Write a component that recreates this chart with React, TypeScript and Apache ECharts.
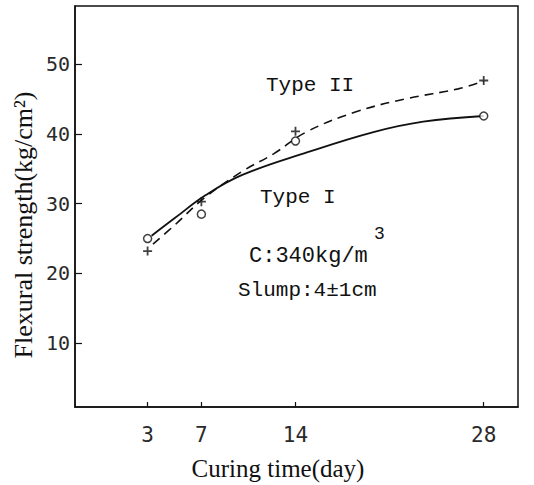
import React, { useEffect, useRef } from "react";
import * as echarts from "echarts";

// Measured data points (curing time in days, flexural strength in kg/cm²)
const days = [3, 7, 14, 28];
const type1Points = [25.0, 28.5, 39.0, 42.6];
const type2Points = [23.2, 30.3, 40.4, 47.7];

// Fitted curves as drawn in the figure
const type1CurveDays = [3.3, 5, 7.3, 10, 14.9, 19.8, 23.5, 28];
const type1CurveVals = [25.4, 27.9, 31.2, 34.1, 37.4, 40.3, 41.8, 42.6];
const type2CurveDays = [3.4, 5, 7.2, 10, 12.4, 14.8, 18.5, 22.3, 26.1, 28];
const type2CurveVals = [24.2, 26.9, 30.8, 34.6, 37.2, 40.3, 43.2, 45.1, 46.5, 47.6];

const xTicks = [3, 7, 14, 28];
const yTicks = [10, 20, 30, 40, 50];

const PLUS = "path://M4,0H6V4H10V6H6V10H4V6H0V4H4Z";

export default function App() {
  const ref = useRef<HTMLDivElement>(null);
  useEffect(() => {
    if (!ref.current) return;
    const chart = echarts.init(ref.current, null, { renderer: "svg" });
    const mono = "DejaVu Sans Mono";
    const typeFont = "Liberation Mono";
    const serif = "Liberation Serif";
    chart.setOption({
      animation: false,
      backgroundColor: "#fff",
      grid: {
        left: 75,
        right: 16,
        top: 6,
        bottom: 78,
        show: true,
        borderColor: "#111",
        borderWidth: 1.5,
      },
      xAxis: {
        type: "value",
        min: -2.4,
        max: 30.55,
        splitLine: { show: false },
        axisLine: { onZero: false, lineStyle: { color: "#111", width: 1.5 } },
        axisTick: {
          inside: true,
          length: 5,
          customValues: xTicks,
          lineStyle: { color: "#111", width: 1.2 },
        },
        axisLabel: {
          customValues: xTicks,
          margin: 17,
          color: "#2a2a2a",
          fontFamily: mono,
          fontSize: 21,
        },
      },
      yAxis: {
        type: "value",
        min: 0.8,
        max: 58.4,
        splitLine: { show: false },
        axisLine: { onZero: false, lineStyle: { color: "#111", width: 1.5 } },
        axisTick: {
          inside: true,
          length: 7,
          customValues: yTicks,
          lineStyle: { color: "#111", width: 1.2 },
        },
        axisLabel: {
          customValues: yTicks,
          margin: 5,
          color: "#2a2a2a",
          fontFamily: mono,
          fontSize: 20,
        },
      },
      graphic: [
        {
          type: "text",
          x: 23,
          y: 225,
          rotation: Math.PI / 2,
          style: {
            text: "Flexural strength(kg/cm²)",
            font: `26px '${serif}'`,
            fill: "#111",
            align: "center",
            verticalAlign: "middle",
          },
        },
        {
          type: "text",
          x: 278,
          y: 468,
          style: {
            text: "Curing time(day)",
            font: `25px '${serif}'`,
            fill: "#111",
            align: "center",
            verticalAlign: "middle",
          },
        },
        {
          type: "text",
          x: 266,
          y: 85,
          style: { text: "Type II", font: `21px '${typeFont}'`, fill: "#111", verticalAlign: "middle" },
        },
        {
          type: "text",
          x: 260,
          y: 197,
          style: { text: "Type I", font: `21px '${typeFont}'`, fill: "#111", verticalAlign: "middle" },
        },
        {
          type: "text",
          x: 249,
          y: 256,
          style: { text: "C:340kg/m", font: `22px '${typeFont}'`, fill: "#111", verticalAlign: "middle" },
        },
        {
          type: "text",
          x: 374,
          y: 234,
          style: { text: "3", font: `18px '${typeFont}'`, fill: "#111", verticalAlign: "middle" },
        },
        {
          type: "text",
          x: 238,
          y: 290,
          style: { text: "Slump:4±1cm", font: `21px '${typeFont}'`, fill: "#111", verticalAlign: "middle" },
        },
      ],
      series: [
        {
          name: "Type I curve",
          type: "line",
          data: type1CurveDays.map((d, i) => [d, type1CurveVals[i]]),
          smooth: 0.4,
          showSymbol: false,
          lineStyle: { color: "#111", width: 1.8 },
        },
        {
          name: "Type II curve",
          type: "line",
          data: type2CurveDays.map((d, i) => [d, type2CurveVals[i]]),
          smooth: 0.4,
          showSymbol: false,
          lineStyle: { color: "#111", width: 1.6, type: [9, 6] },
        },
        {
          name: "Type I",
          type: "scatter",
          data: days.map((d, i) => [d, type1Points[i]]),
          symbol: "circle",
          symbolSize: 8,
          itemStyle: { color: "#fff", borderColor: "#111", borderWidth: 1.5 },
          z: 5,
        },
        {
          name: "Type II",
          type: "scatter",
          data: days.map((d, i) => [d, type2Points[i]]),
          symbol: PLUS,
          symbolSize: 9,
          itemStyle: { color: "#111" },
          z: 5,
        },
      ],
    });
    return () => chart.dispose();
  }, []);
  return (
    <div
      ref={ref}
      style={{ position: "fixed", left: 0, top: 0, width: 534, height: 485 }}
    />
  );
}
